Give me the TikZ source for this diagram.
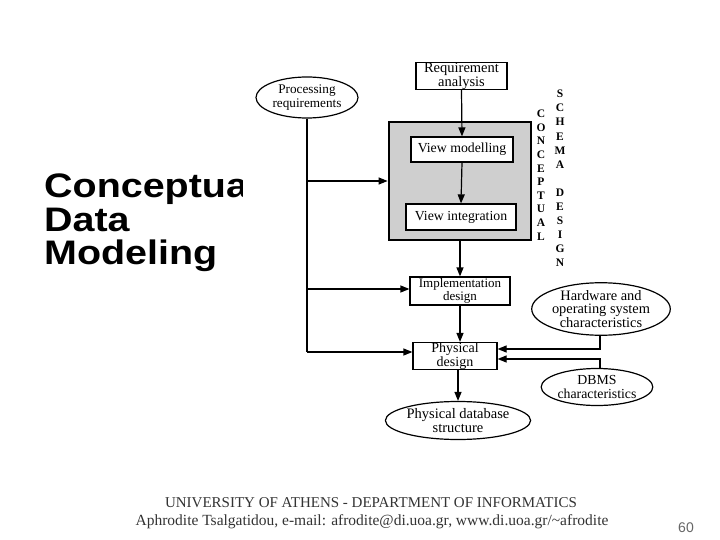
\documentclass[tikz,border=0pt]{standalone}
\usepackage{fontspec}
\setmainfont{Liberation Serif}
\newfontfamily\arialf{Liberation Sans}
\newfontfamily\titlef[FakeStretch=1.16]{Liberation Sans}
\usetikzlibrary{shapes.geometric,arrows.meta}
\newcommand{\fs}[2]{\fontsize{#1}{#2}\selectfont}
\begin{document}
\begin{tikzpicture}[x=1pt,y=-1pt,
 box/.style={draw,line width=1.2pt,fill=white,inner sep=0pt,align=center},
 oval/.style={draw,ellipse,line width=1.2pt,fill=white,inner sep=0pt,align=center},
 arr/.style={line width=1.2pt,-{Triangle[length=9pt,width=7pt]}},
 ln/.style={line width=1.2pt},
 vlet/.style={font=\bfseries\fs{11.5}{11.5},inner sep=0pt},
 ttl/.style={anchor=base west,inner sep=0pt,font=\titlef\bfseries\fs{34}{34}},
 foot/.style={inner sep=0pt,text=black!80}]
\useasboundingbox (0,0) rectangle (720,540);
\fill[white] (0,0) rectangle (720,540);
% title (partly hidden by the picture)
\node[ttl] (t1) at (44,198) {Conceptual};
\node[ttl] (t2) at (44,231) {Data};
\node[ttl] (t3) at (44,264) {Modeling};
\fill[white] (243,50) rectangle (690,450);
% shaded block
\node[draw,line width=2.8pt,fill=gray!38,minimum width=142pt,minimum height=118pt,inner sep=0pt] (shade) at (460,181) {};
% boxes
\node[box,minimum width=91pt,minimum height=25pt,font=\fs{14.5}{12}] (req) at (461.5,76) {Requirement\\analysis};
\node[box,minimum width=102pt,minimum height=25pt,font=\fs{13.8}{13}] (vm) at (462,149.5) {View modelling};
\node[box,minimum width=110pt,minimum height=26pt,font=\fs{13.8}{13}] (vi) at (461,217) {View integration};
\node[box,minimum width=100pt,minimum height=28pt,font=\fs{13}{11.5}] (impl) at (460,291) {Implementation\\design};
\node[box,minimum width=84pt,minimum height=27pt,font=\fs{14}{12}] (phys) at (455,356) {Physical\\design};
% ellipses
\node[oval,minimum width=102pt,minimum height=41pt,font=\fs{13.2}{14}] (proc) at (307,97.5) {Processing\\requirements};
\node[oval,minimum width=134pt,minimum height=52pt,font=\fs{14.4}{13.5}] (hw) at (601,309) {Hardware and\\operating system\\characteristics};
\node[oval,minimum width=100pt,minimum height=37pt,font=\fs{13.8}{13.5}] (dbms) at (597,387) {DBMS\\characteristics};
\node[oval,minimum width=122pt,minimum height=38pt,font=\fs{14.5}{14}] (pds) at (458,420.5) {Physical database\\structure};
% vertical side letters
\foreach \l [count=\i] in {C,O,N,C,E,P,T,U,A,L}
  \node[vlet] (c\i) at (541,{114+13.6*(\i-1)}) {\l};
\foreach \l/\k in {S/0,C/1,H/2,E/3,M/4,A/5,D/7,E/8,S/9,I/10,G/11,N/12}
  \node[vlet] (s\k) at (560,{94+14.1*\k}) {\l};
% connectors
\draw[arr] (req.south) -- (vm.north);
\draw[arr] (vm.south) -- (vi.north);
\draw[arr] (shade.south -| impl.north) -- (impl.north);
\draw[arr] (impl.south) -- (impl.south |- phys.north);
\draw[arr] (phys.south -| pds.north) -- (pds.north);
\coordinate (p1) at (307,181);
\coordinate (p2) at (307,289);
\coordinate (p3) at (307,352);
\draw[ln] (proc.south) -- (p3);
\draw[arr] (p1) -- (p1 -| shade.west);
\draw[arr] (p2) -- (p2 -| impl.west);
\draw[arr] (p3) -- (p3 -| phys.west);
\coordinate (h1) at (600,349);
\coordinate (d1) at (600,359);
\draw[arr] (h1 |- hw.south) -- (h1) -- (h1 -| phys.east);
\draw[arr] (d1 |- dbms.north) -- (d1) -- (d1 -| phys.east);
% footer
\node[foot,font=\fs{15}{15}] (f1) at (371,503) {UNIVERSITY OF ATHENS - DEPARTMENT OF INFORMATICS};
\node[foot,font=\fs{15.5}{15.5}] (f2) at (372,522) {Aphrodite Tsalgatidou, e-mail: afrodite@di.uoa.gr, www.di.uoa.gr/\textasciitilde afrodite};
\node[inner sep=0pt,text=black!60,font=\arialf\fs{14}{14}] (pg) at (686,528) {60};
\end{tikzpicture}
\end{document}
